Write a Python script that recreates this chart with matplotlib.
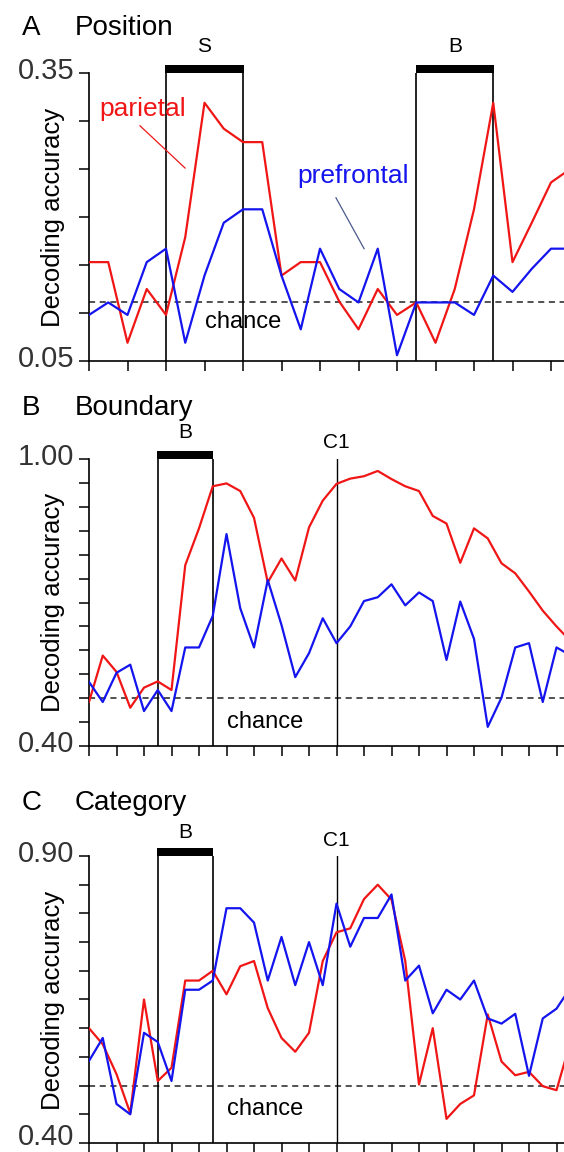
import matplotlib
matplotlib.use("Agg")
import matplotlib.pyplot as plt
from matplotlib.patches import Rectangle
from matplotlib.transforms import ScaledTranslation
import numpy as np

plt.rcParams["font.family"] = ["Liberation Sans", "DejaVu Sans"]

# ---------------- data ----------------
# A: position decoding (9 positions, chance = 1/9)
pos_parietal = [0.153, 0.153, 0.069, 0.125, 0.098, 0.179, 0.319, 0.292, 0.278, 0.278,
                0.139, 0.153, 0.153, 0.112, 0.083, 0.125, 0.098, 0.111, 0.069, 0.125,
                0.208, 0.319, 0.153, 0.194, 0.236, 0.250]
pos_prefrontal = [0.098, 0.111, 0.098, 0.153, 0.167, 0.069, 0.139, 0.194, 0.208, 0.208,
                  0.139, 0.083, 0.167, 0.125, 0.111, 0.167, 0.056, 0.111, 0.111, 0.111,
                  0.098, 0.139, 0.122, 0.146, 0.167, 0.167]
pos_chance = 1 / 9

# B: boundary decoding
bnd_parietal = [0.492, 0.589, 0.555, 0.480, 0.522, 0.535, 0.517, 0.778, 0.855, 0.943,
                0.949, 0.933, 0.877, 0.742, 0.792, 0.746, 0.857, 0.913, 0.948, 0.959,
                0.964, 0.975, 0.958, 0.943, 0.933, 0.881, 0.865, 0.783, 0.855, 0.834,
                0.782, 0.761, 0.723, 0.683, 0.650, 0.620]
bnd_prefrontal = [0.534, 0.492, 0.553, 0.570, 0.473, 0.517, 0.473, 0.606, 0.606, 0.672,
                  0.843, 0.688, 0.606, 0.747, 0.653, 0.544, 0.594, 0.667, 0.615, 0.650,
                  0.703, 0.711, 0.738, 0.694, 0.721, 0.703, 0.580, 0.702, 0.624, 0.440,
                  0.501, 0.606, 0.615, 0.492, 0.606, 0.590]
bnd_chance = 0.5

# C: category decoding
cat_parietal = [0.600, 0.572, 0.520, 0.452, 0.650, 0.508, 0.531, 0.683, 0.683, 0.700,
                0.659, 0.708, 0.717, 0.635, 0.583, 0.559, 0.592, 0.717, 0.767, 0.774,
                0.825, 0.850, 0.824, 0.717, 0.502, 0.600, 0.442, 0.468, 0.483, 0.624,
                0.542, 0.518, 0.524, 0.499, 0.492, 0.575]
cat_prefrontal = [0.543, 0.583, 0.468, 0.450, 0.592, 0.576, 0.508, 0.667, 0.667, 0.683,
                  0.809, 0.809, 0.784, 0.683, 0.759, 0.675, 0.750, 0.675, 0.817, 0.742,
                  0.792, 0.792, 0.833, 0.683, 0.709, 0.626, 0.667, 0.650, 0.683, 0.617,
                  0.608, 0.625, 0.517, 0.617, 0.634, 0.670]
cat_chance = 0.5

# task epochs (time-bin indices)
pos_epochs = [("S", 4, 8), ("B", 17, 21)]
late_epochs = [("B", 5, 9)]
c1_bin = 18

RED = "#f01616"
BLUE = "#1414ee"

# ---------------- figure ----------------
W, H = 564, 1152
fig = plt.figure(figsize=(W / 100, H / 100), dpi=100)
LEFT = 89


def lift(px):
    return ScaledTranslation(0, px / 100, fig.dpi_scale_trans)


def make_axes(top, bottom):
    return fig.add_axes([LEFT / W, 1 - bottom / H, (W - LEFT) / W, (bottom - top) / H])


def style(ax, ylo, yhi, ystep, xmax, bottom_lift=5):
    ax.set_xlim(0, xmax)
    ax.set_ylim(ylo, yhi)
    for s in ("top", "right"):
        ax.spines[s].set_visible(False)
    for s in ("left", "bottom"):
        ax.spines[s].set_linewidth(1.2)
    ax.set_xticks(np.arange(0, xmax, 2))
    ax.set_xticklabels([])
    yt = np.round(np.arange(ylo, yhi + 1e-9, ystep), 3)
    ax.set_yticks(yt)
    ax.set_yticklabels([f"{v:.2f}" if i in (0, len(yt) - 1) else "" for i, v in enumerate(yt)])
    ax.tick_params(axis="both", direction="out", length=7, width=1.1, color="black")
    ax.tick_params(axis="y", labelsize=21, labelcolor="#333333", pad=3.6)
    labels = ax.get_yticklabels()
    for i, lab in enumerate(labels):
        shift = bottom_lift if i == 0 else 5
        lab.set_transform(lab.get_transform() + lift(shift))


def epoch_box(ax, x0, x1, label, label_dy, axh, step):
    for x in (x0, x1):
        ax.axvline(x, color="black", lw=1.2, zorder=2)
    d = 0.7 / step
    ax.add_patch(Rectangle((x0 - d, 1.0), (x1 - x0) + 2 * d, 8 / axh,
                           transform=ax.get_xaxis_transform(), clip_on=False,
                           facecolor="black", edgecolor="none"))
    ax.text((x0 + x1) / 2, 1 + label_dy / axh, label, transform=ax.get_xaxis_transform(),
            ha="center", va="center", fontsize=15)


def c1_marker(ax, x, label_dy, axh):
    ax.axvline(x, color="black", lw=1.0, zorder=2)
    ax.text(x, 1 + label_dy / axh, "C1", transform=ax.get_xaxis_transform(),
            ha="center", va="center", fontsize=15)


def series(ax, par, pfc, chance):
    ax.axhline(chance, color="#222222", lw=1.1, ls=(0, (4, 3)), zorder=1)
    ax.plot(np.arange(len(par)), par, color=RED, lw=1.6, zorder=3)
    ax.plot(np.arange(len(pfc)), pfc, color=BLUE, lw=1.6, zorder=3)


def heading(letter, word, baseline):
    fig.text(22 / W, 1 - baseline / H, letter, fontsize=20, ha="left", va="baseline")
    fig.text(75 / W, 1 - baseline / H, word, fontsize=20, ha="left", va="baseline")


def ylabel(center_y):
    fig.text(53 / W, 1 - center_y / H, "Decoding accuracy", rotation=90,
             ha="center", va="center", fontsize=18.5)


# ---- A: position ----
stepA = 19.25
axA = make_axes(73, 361)
style(axA, 0.05, 0.35, 0.05, (W - LEFT) / stepA)
series(axA, pos_parietal, pos_prefrontal, pos_chance)
for lab, a, b in pos_epochs:
    epoch_box(axA, a, b, lab, 27, 288, stepA)
axA.text(8.0, 0.0844, "chance", ha="center", va="baseline", fontsize=17)
axA.text(0.52, 0.305, "parietal", color=RED, ha="left", va="baseline", fontsize=19)
axA.plot([2.65, 4.99], [0.295, 0.251], color=RED, lw=0.9)
axA.text(10.8, 0.235, "prefrontal", color=BLUE, ha="left", va="baseline", fontsize=19)
axA.plot([12.83, 14.29], [0.220, 0.167], color="#4a5a8c", lw=0.9)
heading("A", "Position", 35)
ylabel(217)

# ---- B: boundary ----
stepB = 13.75
axB = make_axes(459, 746)
style(axB, 0.40, 1.00, 0.05, (W - LEFT) / stepB)
series(axB, bnd_parietal, bnd_prefrontal, bnd_chance)
for lab, a, b in late_epochs:
    epoch_box(axB, a, b, lab, 26, 287, stepB)
c1_marker(axB, c1_bin, 17, 287)
axB.text(12.8, 0.437, "chance", ha="center", va="baseline", fontsize=17)
heading("B", "Boundary", 415)
ylabel(602)

# ---- C: category ----
axC = make_axes(856, 1143)
style(axC, 0.40, 0.90, 0.05, (W - LEFT) / stepB, bottom_lift=9)
series(axC, cat_parietal, cat_prefrontal, cat_chance)
for lab, a, b in late_epochs:
    epoch_box(axC, a, b, lab, 24, 287, stepB)
c1_marker(axC, c1_bin, 16, 287)
axC.text(12.8, 0.449, "chance", ha="center", va="baseline", fontsize=17)
heading("C", "Category", 810)
ylabel(1000)

fig.savefig("out.png", dpi=100)
